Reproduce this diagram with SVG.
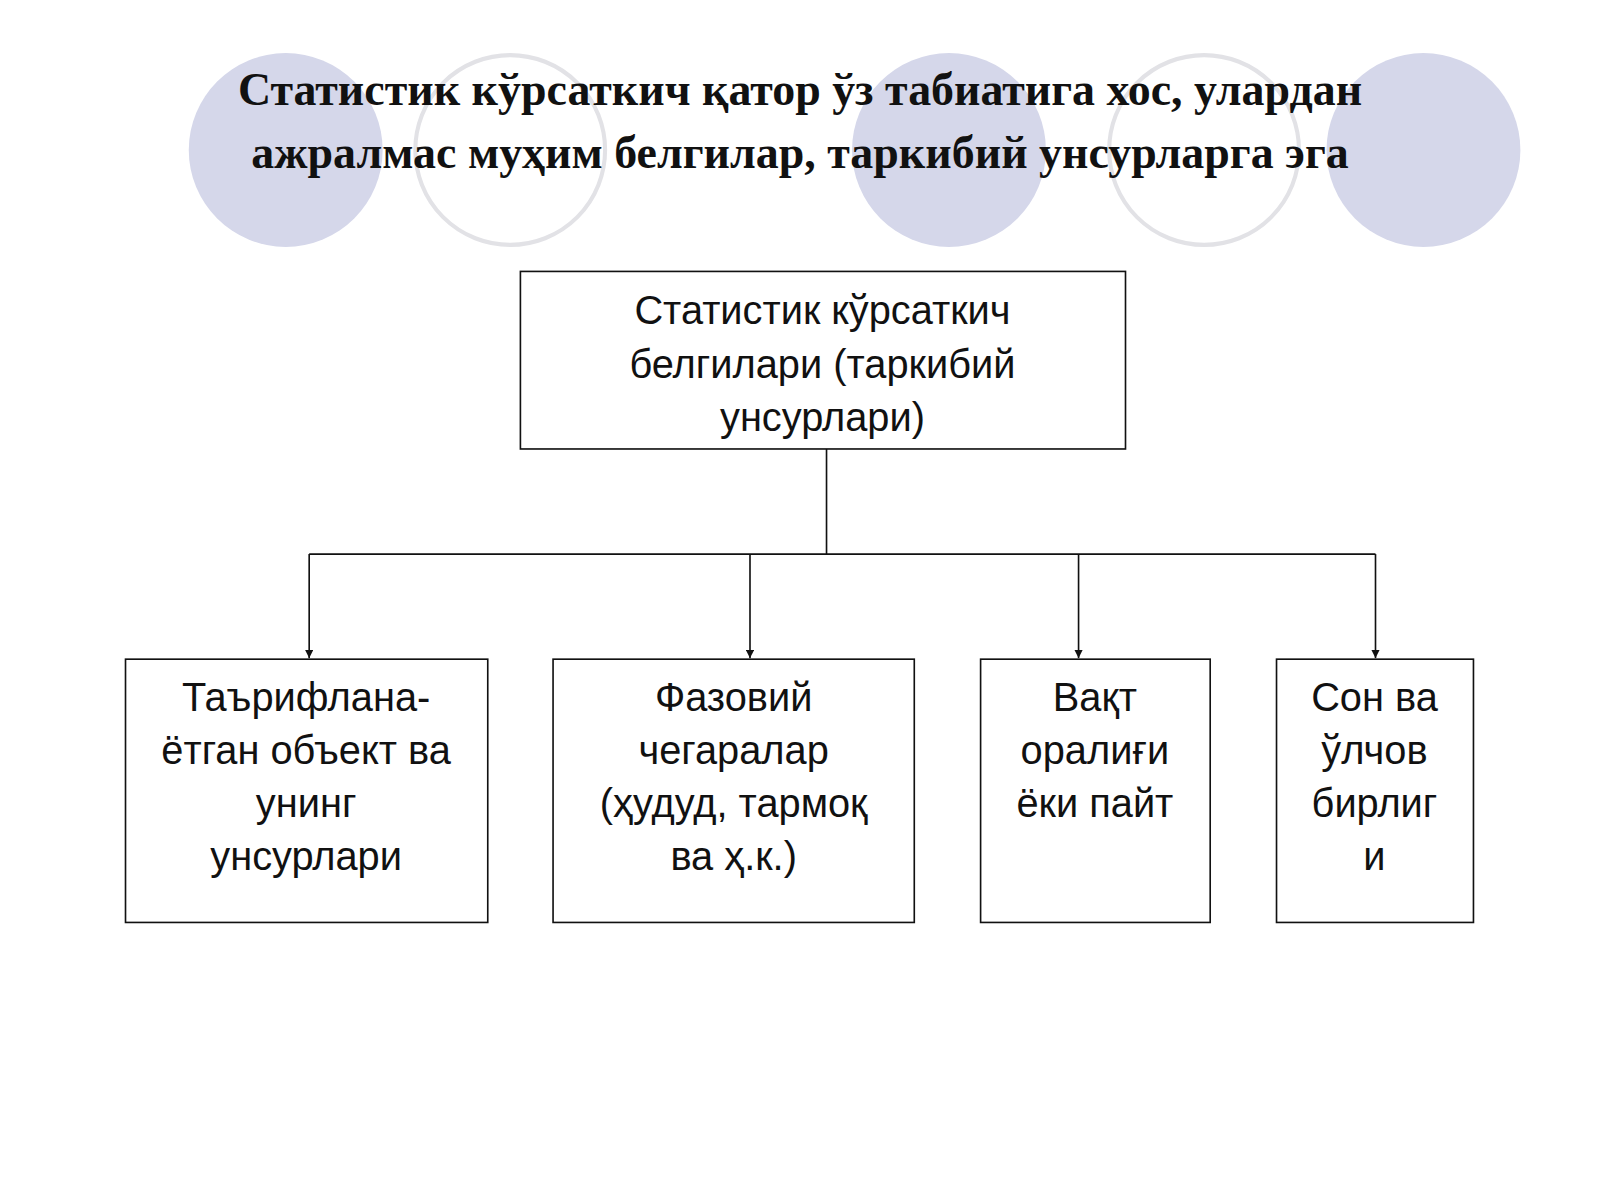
<svg xmlns="http://www.w3.org/2000/svg" width="1600" height="1200" viewBox="0 0 1600 1200">
<defs>
<style>
.c1{fill:#d5d7ea}
.c2{fill:none;stroke:#e2e2e6;stroke-width:4}
.t{font-family:"Liberation Serif",serif;font-weight:bold;font-size:45px;fill:#111;text-anchor:middle}
.b{fill:#fff;stroke:#111;stroke-width:1.6}
.l{font-family:"Liberation Sans",Arial,sans-serif;font-size:39px;fill:#111;text-anchor:middle}
.w{stroke:#111;stroke-width:1.6;fill:none}
</style>
<marker id="a" viewBox="0 0 10 10" refX="10" refY="5" markerWidth="8" markerHeight="8" markerUnits="userSpaceOnUse" orient="auto"><path d="M0,0L10,5L0,10z" fill="#111"/></marker>
</defs>
<rect width="1600" height="1200" fill="#fff"/>
<g transform="scale(1.0204)">
<circle class="c1" cx="280" cy="147" r="95"/>
<circle class="c2" cx="500" cy="147" r="93"/>
<circle class="c1" cx="930" cy="147" r="95"/>
<circle class="c2" cx="1180" cy="147" r="93"/>
<circle class="c1" cx="1395" cy="147" r="95"/>
<text class="t" x="784" y="103">Статистик кўрсаткич қатор ўз табиатига хос, улардан</text>
<text class="t" x="784" y="165">ажралмас муҳим белгилар, таркибий унсурларга эга</text>
<g id="connectors">
<path class="w" d="M810,440V543M303,543H1348"/>
<path class="w" d="M303,543V645" marker-end="url(#a)"/>
<path class="w" d="M735,543V645" marker-end="url(#a)"/>
<path class="w" d="M1057,543V645" marker-end="url(#a)"/>
<path class="w" d="M1348,543V645" marker-end="url(#a)"/>
</g>
<g id="root"><rect class="b" x="510" y="266" width="593" height="174"/>
<text class="l" x="806" y="318">Статистик кўрсаткич</text><text class="l" x="806" y="370">белгилари (таркибий</text><text class="l" x="806" y="422">унсурлари)</text></g>
<g id="n1"><rect class="b" x="123" y="646" width="355" height="258"/>
<text class="l" x="300" y="697">Таърифлана-</text><text class="l" x="300" y="749">ётган объект ва</text><text class="l" x="300" y="801">унинг</text><text class="l" x="300" y="853">унсурлари</text></g>
<g id="n2"><rect class="b" x="542" y="646" width="354" height="258"/>
<text class="l" x="719" y="697">Фазовий</text><text class="l" x="719" y="749">чегаралар</text><text class="l" x="719" y="801">(ҳудуд, тармоқ</text><text class="l" x="719" y="853">ва ҳ.к.)</text></g>
<g id="n3"><rect class="b" x="961" y="646" width="225" height="258"/>
<text class="l" x="1073" y="697">Вақт</text><text class="l" x="1073" y="749">оралиғи</text><text class="l" x="1073" y="801">ёки пайт</text></g>
<g id="n4"><rect class="b" x="1251" y="646" width="193" height="258"/>
<text class="l" x="1347" y="697">Сон ва</text><text class="l" x="1347" y="749">ўлчов</text><text class="l" x="1347" y="801">бирлиг</text><text class="l" x="1347" y="853">и</text></g>
</g>
</svg>
